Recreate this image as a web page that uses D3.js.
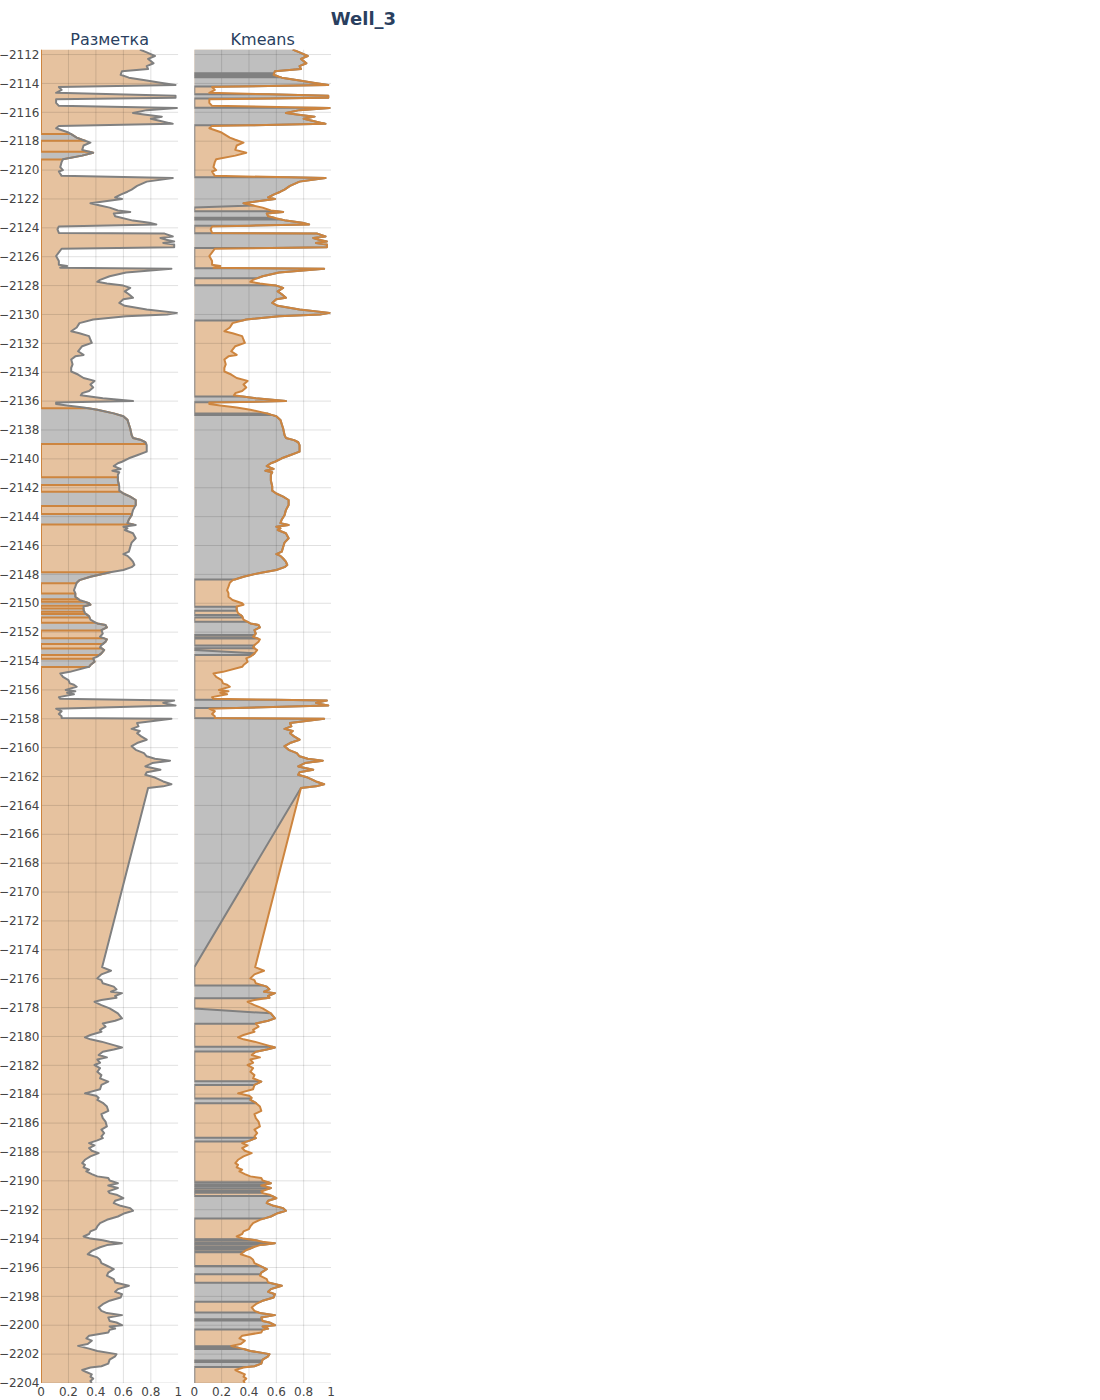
<!DOCTYPE html>
<html>
<head>
<meta charset="utf-8">
<script src="https://cdn.jsdelivr.net/npm/d3@7"></script>
<style>
  body { margin: 0; background: #fff; }
  text { font-family: "DejaVu Sans", Verdana, sans-serif; }
</style>
</head>
<body>
<svg id="chart" width="1100" height="1400"></svg>
<script>
// normalised log curve: [depth, value]
const curve = [
  [-2111.65, 0.72], [-2111.85, 0.77], [-2112.1, 0.83], [-2112.3, 0.78], [-2112.6, 0.82],
  [-2112.8, 0.77], [-2113.0, 0.78], [-2113.15, 0.59], [-2113.4, 0.58], [-2113.6, 0.64],
  [-2113.8, 0.77], [-2113.95, 0.87], [-2114.1, 0.98], [-2114.25, 0.13], [-2114.45, 0.15],
  [-2114.65, 0.11], [-2114.85, 0.98], [-2115.0, 0.98], [-2115.1, 0.11], [-2115.35, 0.11],
  [-2115.55, 0.13], [-2115.7, 0.99], [-2115.85, 0.77], [-2116.05, 0.67], [-2116.15, 0.75],
  [-2116.3, 0.88], [-2116.45, 0.8], [-2116.6, 0.87], [-2116.8, 0.96], [-2116.95, 0.13],
  [-2117.1, 0.11], [-2117.4, 0.2], [-2117.75, 0.26], [-2117.9, 0.3], [-2118.1, 0.36],
  [-2118.3, 0.31], [-2118.6, 0.30], [-2118.8, 0.38], [-2119.0, 0.30], [-2119.25, 0.16],
  [-2119.45, 0.15], [-2119.8, 0.14], [-2120.0, 0.16], [-2120.1, 0.13], [-2120.4, 0.15],
  [-2120.55, 0.96], [-2120.8, 0.77], [-2121.1, 0.70], [-2121.35, 0.66], [-2121.5, 0.63],
  [-2121.7, 0.58], [-2121.9, 0.54], [-2122.0, 0.59], [-2122.3, 0.36], [-2122.45, 0.43],
  [-2122.6, 0.50], [-2122.8, 0.56], [-2122.9, 0.65], [-2123.0, 0.53], [-2123.2, 0.54],
  [-2123.5, 0.67], [-2123.65, 0.79], [-2123.77, 0.84], [-2123.9, 0.13], [-2124.1, 0.12],
  [-2124.35, 0.13], [-2124.4, 0.90], [-2124.6, 0.96], [-2124.7, 0.87], [-2124.85, 0.92],
  [-2124.95, 0.97], [-2125.05, 0.89], [-2125.15, 0.97], [-2125.35, 0.97], [-2125.45, 0.15],
  [-2125.7, 0.13], [-2125.95, 0.11], [-2126.3, 0.13], [-2126.55, 0.13], [-2126.65, 0.19],
  [-2126.77, 0.14], [-2126.84, 0.95], [-2127.1, 0.62], [-2127.35, 0.50], [-2127.6, 0.43],
  [-2127.74, 0.41], [-2127.85, 0.48], [-2128.0, 0.60], [-2128.16, 0.65], [-2128.4, 0.61],
  [-2128.6, 0.64], [-2128.85, 0.67], [-2128.95, 0.60], [-2129.2, 0.57], [-2129.4, 0.61],
  [-2129.65, 0.77], [-2129.89, 0.99], [-2130.0, 0.92], [-2130.12, 0.62], [-2130.35, 0.38],
  [-2130.6, 0.28], [-2130.9, 0.26], [-2131.16, 0.22], [-2131.3, 0.28], [-2131.5, 0.35],
  [-2131.75, 0.36], [-2131.97, 0.37], [-2132.2, 0.30], [-2132.55, 0.27], [-2132.8, 0.31],
  [-2132.9, 0.25], [-2133.12, 0.22], [-2133.45, 0.23], [-2133.7, 0.22], [-2133.95, 0.22],
  [-2134.16, 0.27], [-2134.4, 0.31], [-2134.6, 0.39], [-2134.85, 0.36], [-2135.05, 0.38],
  [-2135.3, 0.35], [-2135.45, 0.30], [-2135.6, 0.29], [-2135.8, 0.45], [-2136.0, 0.67],
  [-2136.1, 0.11], [-2136.2, 0.11], [-2136.3, 0.19], [-2136.45, 0.31], [-2136.6, 0.41],
  [-2136.85, 0.53], [-2137.05, 0.60], [-2137.3, 0.63], [-2137.6, 0.64], [-2137.9, 0.65],
  [-2138.35, 0.66], [-2138.55, 0.67], [-2138.7, 0.73], [-2138.85, 0.76], [-2139.05, 0.77],
  [-2139.3, 0.77], [-2139.5, 0.77], [-2139.75, 0.70], [-2139.96, 0.64], [-2140.2, 0.59],
  [-2140.3, 0.56], [-2140.5, 0.53], [-2140.7, 0.58], [-2140.82, 0.52], [-2140.93, 0.57],
  [-2141.1, 0.56], [-2141.5, 0.56], [-2141.9, 0.57], [-2142.2, 0.57], [-2142.4, 0.60],
  [-2142.62, 0.65], [-2142.85, 0.69], [-2143.2, 0.69], [-2143.55, 0.67], [-2143.9, 0.66],
  [-2144.2, 0.64], [-2144.45, 0.63], [-2144.58, 0.69], [-2144.7, 0.60], [-2144.82, 0.63],
  [-2144.93, 0.61], [-2145.15, 0.67], [-2145.5, 0.69], [-2145.8, 0.66], [-2146.1, 0.65],
  [-2146.43, 0.64], [-2146.6, 0.60], [-2146.72, 0.63], [-2146.9, 0.65], [-2147.12, 0.67],
  [-2147.35, 0.68], [-2147.5, 0.66], [-2147.7, 0.60], [-2147.9, 0.48], [-2148.16, 0.36],
  [-2148.4, 0.28], [-2148.58, 0.26], [-2148.85, 0.25], [-2149.1, 0.24], [-2149.3, 0.25],
  [-2149.55, 0.25], [-2149.77, 0.28], [-2150.0, 0.35], [-2150.1, 0.36], [-2150.22, 0.31],
  [-2150.45, 0.31], [-2150.68, 0.32], [-2150.9, 0.35], [-2151.14, 0.36], [-2151.4, 0.41],
  [-2151.5, 0.47], [-2151.67, 0.48], [-2151.86, 0.44], [-2152.1, 0.45], [-2152.32, 0.43],
  [-2152.5, 0.48], [-2152.66, 0.47], [-2152.9, 0.44], [-2153.05, 0.43], [-2153.24, 0.46],
  [-2153.47, 0.44], [-2153.7, 0.41], [-2153.82, 0.38], [-2154.05, 0.39], [-2154.28, 0.36],
  [-2154.4, 0.35], [-2154.75, 0.21], [-2154.86, 0.14], [-2155.1, 0.16], [-2155.32, 0.20],
  [-2155.55, 0.21], [-2155.64, 0.24], [-2155.78, 0.26], [-2156.0, 0.18], [-2156.1, 0.25],
  [-2156.2, 0.19], [-2156.3, 0.24], [-2156.5, 0.13], [-2156.62, 0.14], [-2156.73, 0.97],
  [-2156.9, 0.89], [-2156.97, 0.92], [-2157.08, 0.98], [-2157.3, 0.11], [-2157.48, 0.15],
  [-2157.67, 0.13], [-2157.83, 0.15], [-2157.95, 0.15], [-2158.0, 0.95], [-2158.3, 0.70],
  [-2158.53, 0.71], [-2158.7, 0.66], [-2158.84, 0.72], [-2159.0, 0.70], [-2159.22, 0.73],
  [-2159.45, 0.77], [-2159.68, 0.70], [-2159.9, 0.66], [-2160.15, 0.69], [-2160.38, 0.75],
  [-2160.6, 0.77], [-2160.77, 0.83], [-2160.9, 0.94], [-2161.07, 0.81], [-2161.3, 0.76],
  [-2161.53, 0.87], [-2161.7, 0.77], [-2161.88, 0.76], [-2162.07, 0.83], [-2162.34, 0.89],
  [-2162.53, 0.95], [-2162.68, 0.89], [-2162.8, 0.78], [-2175.2, 0.445], [-2175.45, 0.51],
  [-2175.7, 0.44], [-2175.98, 0.41], [-2176.1, 0.44], [-2176.32, 0.45], [-2176.55, 0.53],
  [-2176.74, 0.55], [-2176.9, 0.51], [-2177.0, 0.59], [-2177.2, 0.54], [-2177.32, 0.55],
  [-2177.48, 0.44], [-2177.6, 0.39], [-2177.83, 0.44], [-2178.06, 0.50], [-2178.4, 0.56],
  [-2178.75, 0.59], [-2178.91, 0.54], [-2179.1, 0.45], [-2179.32, 0.47], [-2179.55, 0.43],
  [-2179.67, 0.44], [-2179.9, 0.36], [-2180.06, 0.32], [-2180.2, 0.36], [-2180.36, 0.44],
  [-2180.6, 0.53], [-2180.76, 0.59], [-2180.9, 0.53], [-2181.06, 0.45], [-2181.29, 0.42],
  [-2181.45, 0.48], [-2181.6, 0.41], [-2181.82, 0.43], [-2181.98, 0.39], [-2182.2, 0.43],
  [-2182.45, 0.41], [-2182.68, 0.44], [-2182.9, 0.43], [-2183.13, 0.49], [-2183.36, 0.44],
  [-2183.66, 0.43], [-2183.94, 0.32], [-2184.1, 0.40], [-2184.25, 0.42], [-2184.4, 0.41],
  [-2184.6, 0.45], [-2184.85, 0.48], [-2185.15, 0.49], [-2185.38, 0.44], [-2185.66, 0.45],
  [-2185.9, 0.47], [-2186.23, 0.48], [-2186.46, 0.44], [-2186.7, 0.46], [-2186.92, 0.44],
  [-2187.04, 0.45], [-2187.2, 0.41], [-2187.39, 0.35], [-2187.55, 0.39], [-2187.73, 0.35],
  [-2187.92, 0.37], [-2188.08, 0.42], [-2188.31, 0.36], [-2188.54, 0.32], [-2188.77, 0.30],
  [-2188.89, 0.32], [-2189.07, 0.31], [-2189.23, 0.35], [-2189.35, 0.33], [-2189.53, 0.37],
  [-2189.69, 0.41], [-2189.8, 0.49], [-2189.98, 0.50], [-2190.16, 0.56], [-2190.32, 0.49],
  [-2190.5, 0.56], [-2190.73, 0.49], [-2190.85, 0.50], [-2190.96, 0.55], [-2191.2, 0.60],
  [-2191.38, 0.54], [-2191.54, 0.53], [-2191.73, 0.58], [-2191.89, 0.65], [-2192.07, 0.67],
  [-2192.24, 0.61], [-2192.47, 0.56], [-2192.7, 0.48], [-2192.93, 0.43], [-2193.16, 0.41],
  [-2193.34, 0.40], [-2193.5, 0.36], [-2193.68, 0.35], [-2193.85, 0.31], [-2194.0, 0.36],
  [-2194.12, 0.45], [-2194.22, 0.50], [-2194.32, 0.59], [-2194.45, 0.48], [-2194.6, 0.43],
  [-2194.85, 0.37], [-2195.08, 0.34], [-2195.3, 0.41], [-2195.47, 0.43], [-2195.7, 0.44],
  [-2195.88, 0.48], [-2196.12, 0.53], [-2196.35, 0.49], [-2196.57, 0.48], [-2196.8, 0.53],
  [-2197.04, 0.54], [-2197.27, 0.64], [-2197.5, 0.56], [-2197.68, 0.54], [-2197.85, 0.59],
  [-2198.08, 0.58], [-2198.3, 0.50], [-2198.54, 0.45], [-2198.77, 0.42], [-2199.0, 0.44],
  [-2199.16, 0.48], [-2199.3, 0.59], [-2199.46, 0.49], [-2199.7, 0.50], [-2199.81, 0.55],
  [-2200.0, 0.59], [-2200.09, 0.50], [-2200.23, 0.54], [-2200.32, 0.50], [-2200.5, 0.49],
  [-2200.73, 0.35], [-2200.91, 0.33], [-2201.07, 0.37], [-2201.3, 0.34], [-2201.43, 0.27],
  [-2201.62, 0.35], [-2201.78, 0.41], [-2202.0, 0.55], [-2202.15, 0.54], [-2202.38, 0.50],
  [-2202.66, 0.49], [-2202.84, 0.44], [-2202.93, 0.36], [-2203.1, 0.30], [-2203.24, 0.33],
  [-2203.4, 0.37], [-2203.56, 0.36], [-2203.7, 0.38], [-2203.86, 0.36], [-2204.0, 0.37]
];

// depth intervals [top, bottom] assigned to the grey class
const markupGray = [
  [-2117.5, -2117.97], [-2118.73, -2119.26], [-2136.5, -2138.97], [-2141.28, -2141.81],
  [-2142.27, -2143.27], [-2143.82, -2144.54], [-2147.86, -2148.62], [-2149.32, -2149.73],
  [-2149.89, -2150.17], [-2150.36, -2150.59], [-2150.75, -2150.98], [-2151.35, -2151.88],
  [-2152.43, -2152.83], [-2153.13, -2153.59], [-2153.85, -2154.42]
];
const kmeansGray = [
  [-2111.65, -2113.3], [-2113.38, -2113.5], [-2113.58, -2114.22], [-2114.75, -2115.05],
  [-2115.68, -2116.9], [-2120.5, -2122.45], [-2122.85, -2123.3], [-2123.42, -2123.85],
  [-2124.37, -2125.4], [-2126.8, -2127.5], [-2127.97, -2130.42], [-2135.68, -2136.08],
  [-2136.86, -2136.92], [-2136.97, -2148.35], [-2150.24, -2150.52], [-2150.82, -2150.98],
  [-2151.28, -2152.2], [-2152.36, -2152.44], [-2152.92, -2153.12], [-2153.47, -2153.59],
  [-2156.68, -2157.25], [-2158.0, -2162.8], [-2176.48, -2177.36], [-2178.4, -2179.12],
  [-2180.71, -2181.04], [-2183.1, -2183.37], [-2184.3, -2184.62], [-2187.02, -2187.27],
  [-2190.1, -2190.25], [-2190.4, -2190.55], [-2190.7, -2190.83], [-2191.05, -2192.6],
  [-2194.05, -2194.15], [-2194.3, -2194.42], [-2194.58, -2194.72], [-2194.87, -2194.95],
  [-2195.9, -2196.46], [-2197.06, -2198.38], [-2199.12, -2199.58], [-2199.68, -2200.3],
  [-2201.45, -2201.55], [-2201.65, -2202.45], [-2202.55, -2202.9]
];

const panelTitles = ["Разметка", "Kmeans"];
const xTicks = [0, 0.2, 0.4, 0.6, 0.8, 1];
const yTicks = [-2112, -2114, -2116, -2118, -2120, -2122, -2124, -2126, -2128, -2130,
  -2132, -2134, -2136, -2138, -2140, -2142, -2144, -2146, -2148, -2150, -2152, -2154,
  -2156, -2158, -2160, -2162, -2164, -2166, -2168, -2170, -2172, -2174, -2176, -2178,
  -2180, -2182, -2184, -2186, -2188, -2190, -2192, -2194, -2196, -2198, -2200, -2202, -2204];

const ORANGE = "#cd853f", ORANGE_FILL = "#e6c29f";
const GREY = "#808080", GREY_FILL = "#bfbfbf";

const svg = d3.select("#chart");
const plotTop = 49.5, plotBottom = 1383;
const y = d3.scaleLinear().domain([-2111.65, -2204]).range([plotTop, plotBottom]);

const panels = [
  {left: 41, right: 178.3, title: panelTitles[0], gray: markupGray, lineFull: GREY, lineMask: ORANGE},
  {left: 194.3, right: 331, title: panelTitles[1], gray: kmeansGray, lineFull: ORANGE, lineMask: GREY}
];

function inside(d, ints) {
  return ints.some(([a, b]) => d <= a + 1e-9 && d >= b - 1e-9);
}

// curve with the grey-class copy (zero outside the class); class edges get a flat step
function buildPoints(ints) {
  const edges = ints.flat();
  const pts = [];
  for (let i = 0; i < curve.length; i++) {
    const [d, v] = curve[i];
    pts.push({d, v, m: inside(d, ints) ? v : 0});
    if (i === curve.length - 1) continue;
    const [d2, v2] = curve[i + 1];
    edges.filter(b => b < d - 1e-9 && b > d2 + 1e-9)
      .sort((a, b) => b - a)
      .forEach(b => {
        const vb = v + (v2 - v) * (d - b) / (d - d2);
        pts.push({d: b, v: vb, m: inside(b + 0.001, ints) ? vb : 0});
        pts.push({d: b, v: vb, m: inside(b - 0.001, ints) ? vb : 0});
      });
  }
  return pts;
}

panels.forEach((p, k) => {
  const x = d3.scaleLinear().domain([0, 1]).range([p.left, p.right]);
  const pts = buildPoints(p.gray);
  const g = svg.append("g");

  g.append("clipPath").attr("id", "clip" + k)
    .append("rect").attr("x", p.left).attr("y", plotTop)
    .attr("width", p.right - p.left).attr("height", plotBottom - plotTop);

  const plot = g.append("g").attr("clip-path", `url(#clip${k})`);

  plot.append("path").datum(pts)
    .attr("fill", ORANGE_FILL)
    .attr("d", d3.area().y(d => y(d.d)).x0(x(0)).x1(d => x(d.v)));
  plot.append("path").datum(pts)
    .attr("fill", GREY_FILL)
    .attr("d", d3.area().y(d => y(d.d)).x0(x(0)).x1(d => x(d.m)));

  // grid over the fills, translucent so it reads through them
  plot.selectAll(".hg").data(yTicks).enter().append("line")
    .attr("x1", p.left).attr("x2", p.right)
    .attr("y1", d => y(d)).attr("y2", d => y(d))
    .attr("stroke", "rgba(0,0,0,0.12)").attr("stroke-width", 1);
  plot.selectAll(".vg").data(xTicks.slice(1, 5)).enter().append("line")
    .attr("x1", d => x(d)).attr("x2", d => x(d))
    .attr("y1", plotTop).attr("y2", plotBottom)
    .attr("stroke", "rgba(0,0,0,0.12)").attr("stroke-width", 1);

  plot.append("path").datum(pts)
    .attr("fill", "none").attr("stroke", p.lineMask).attr("stroke-width", 2)
    .attr("stroke-linejoin", "round")
    .attr("d", d3.line().x(d => x(d.m)).y(d => y(d.d)));
  plot.append("path").datum(pts)
    .attr("fill", "none").attr("stroke", p.lineFull).attr("stroke-width", 2)
    .attr("stroke-linejoin", "round")
    .attr("d", d3.line().x(d => x(d.v)).y(d => y(d.d)));

  g.append("text")
    .attr("x", (p.left + p.right) / 2).attr("y", 45)
    .attr("text-anchor", "middle")
    .attr("font-size", 16).attr("fill", "#2a3f5f")
    .text(p.title);

  g.selectAll(".xt").data(xTicks).enter().append("text")
    .attr("x", d => x(d)).attr("y", 1396)
    .attr("text-anchor", "middle")
    .attr("font-size", 12).attr("fill", "#444")
    .text(d => d3.format("~g")(d));
});

svg.selectAll(".yt").data(yTicks).enter().append("text")
  .attr("x", 39.5).attr("y", d => y(d)).attr("dy", "0.35em")
  .attr("text-anchor", "end")
  .attr("font-size", 12).attr("fill", "#444")
  .text(d => "\u2212" + Math.abs(d));

svg.append("text")
  .attr("x", 363.5).attr("y", 25)
  .attr("text-anchor", "middle")
  .attr("font-size", 18).attr("font-weight", "bold").attr("fill", "#2a3f5f")
  .text("Well_3");
</script>
</body>
</html>
